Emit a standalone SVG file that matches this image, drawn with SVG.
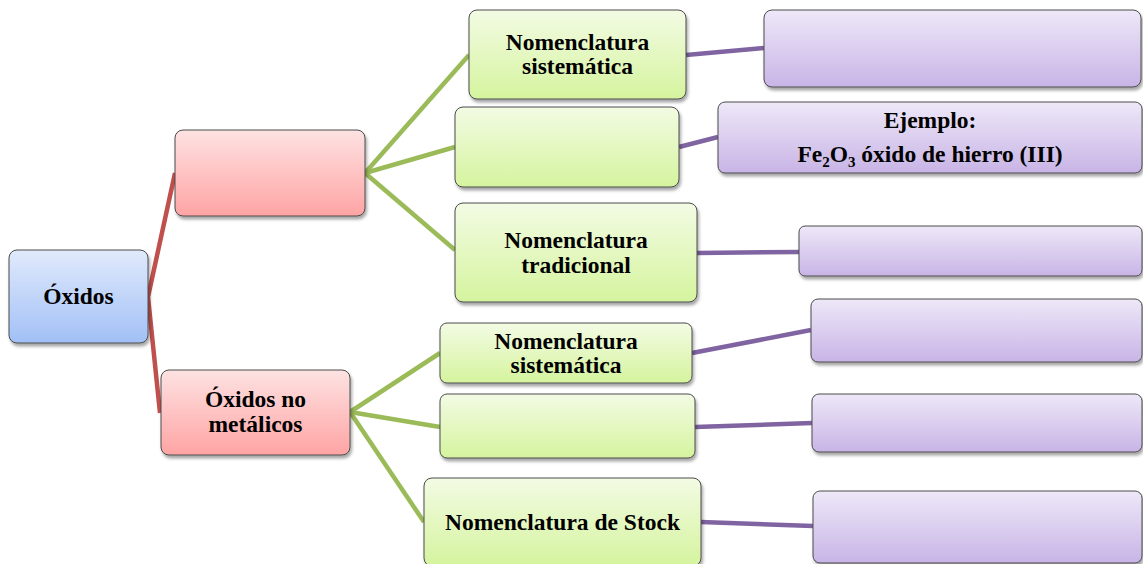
<svg xmlns="http://www.w3.org/2000/svg" width="1143" height="564" viewBox="0 0 1143 564">
<defs>
<linearGradient id="gBlue" x1="0" y1="0" x2="0" y2="1"><stop offset="0" stop-color="#e0eafc"/><stop offset="1" stop-color="#a2c0f6"/></linearGradient>
<linearGradient id="gRed" x1="0" y1="0" x2="0" y2="1"><stop offset="0" stop-color="#fde2e2"/><stop offset="1" stop-color="#ffa4a4"/></linearGradient>
<linearGradient id="gGreen" x1="0" y1="0" x2="0" y2="1"><stop offset="0" stop-color="#f3fbe4"/><stop offset="1" stop-color="#d5f49e"/></linearGradient>
<linearGradient id="gPurple" x1="0" y1="0" x2="0" y2="1"><stop offset="0" stop-color="#eee8f8"/><stop offset="1" stop-color="#c8b4e6"/></linearGradient>
<filter id="sh" x="-10%" y="-10%" width="130%" height="140%"><feDropShadow dx="1.5" dy="3" stdDeviation="1.8" flood-color="#000" flood-opacity="0.35"/></filter>
</defs>
<style>
.box{stroke:#4a4a4a;stroke-width:1;filter:url(#sh)}
.blue{fill:url(#gBlue)}.red{fill:url(#gRed)}.green{fill:url(#gGreen)}.purple{fill:url(#gPurple)}
.t{font-family:"Liberation Serif","Times New Roman",serif;font-weight:bold;font-size:23.5px;fill:#000;text-anchor:middle}
.sub{font-size:15px}
.c{fill:none;stroke-width:4.5;stroke-linecap:butt}
.cr{stroke:#c0504d}.cg{stroke:#9bbb59}.cp{stroke:#8064a2}
</style>
<g id="connectors">
<polyline class="c cr" points="175,173 148,297 160,413"/>
<line class="c cg" x1="365" y1="173" x2="469" y2="55"/>
<line class="c cg" x1="365" y1="173" x2="455" y2="147"/>
<line class="c cg" x1="365" y1="173" x2="455" y2="250"/>
<line class="c cg" x1="350" y1="412" x2="440" y2="353"/>
<line class="c cg" x1="350" y1="412" x2="440" y2="427"/>
<line class="c cg" x1="350" y1="412" x2="424" y2="522"/>
<line class="c cp" x1="686" y1="55" x2="764" y2="48"/>
<line class="c cp" x1="679" y1="147" x2="718" y2="137"/>
<line class="c cp" x1="697" y1="253" x2="799" y2="252"/>
<line class="c cp" x1="692" y1="353" x2="811" y2="330"/>
<line class="c cp" x1="695" y1="427" x2="812" y2="423"/>
<line class="c cp" x1="701" y1="522" x2="813" y2="526"/>
</g>
<g id="n-oxidos"><rect class="box blue" x="9" y="250" width="139" height="93" rx="8"/><text class="t" x="78.5" y="304">Óxidos</text></g>
<g id="n-red1"><rect class="box red" x="175" y="130" width="190" height="86" rx="8"/></g>
<g id="n-red2"><rect class="box red" x="161" y="370" width="189" height="85" rx="8"/><text class="t" x="255.5" y="407">Óxidos no</text><text class="t" x="255.5" y="432">metálicos</text></g>
<g id="n-g1"><rect class="box green" x="469" y="10" width="217" height="89" rx="8"/><text class="t" x="577.5" y="50">Nomenclatura</text><text class="t" x="577.5" y="74">sistemática</text></g>
<g id="n-g2"><rect class="box green" x="455" y="107" width="224" height="80" rx="8"/></g>
<g id="n-g3"><rect class="box green" x="455" y="203" width="242" height="99" rx="8"/><text class="t" x="576" y="248">Nomenclatura</text><text class="t" x="576" y="273">tradicional</text></g>
<g id="n-g4"><rect class="box green" x="440" y="323" width="252" height="60" rx="7"/><text class="t" x="566" y="349">Nomenclatura</text><text class="t" x="566" y="373">sistemática</text></g>
<g id="n-g5"><rect class="box green" x="440" y="394" width="255" height="64" rx="7"/></g>
<g id="n-g6"><rect class="box green" x="424" y="478" width="277" height="88" rx="8"/><text class="t" x="562.5" y="530">Nomenclatura de Stock</text></g>
<g id="n-p1"><rect class="box purple" x="764" y="10" width="377" height="77" rx="8"/></g>
<g id="n-p2"><rect class="box purple" x="718" y="102" width="424" height="71" rx="7"/><text class="t" x="930" y="128">Ejemplo:</text><text class="t" x="930" y="162">Fe<tspan class="sub" dy="5">2</tspan><tspan dy="-5">O</tspan><tspan class="sub" dy="5">3</tspan><tspan dy="-5"> óxido de hierro (III)</tspan></text></g>
<g id="n-p3"><rect class="box purple" x="799" y="226" width="343" height="50" rx="6"/></g>
<g id="n-p4"><rect class="box purple" x="811" y="299" width="331" height="63" rx="7"/></g>
<g id="n-p5"><rect class="box purple" x="812" y="394" width="330" height="58" rx="7"/></g>
<g id="n-p6"><rect class="box purple" x="813" y="491" width="329" height="72" rx="7"/></g>
</svg>
